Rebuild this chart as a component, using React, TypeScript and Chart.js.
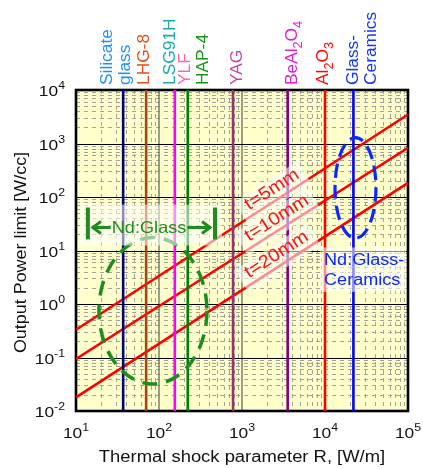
import React, { useEffect, useRef } from 'react';
import { Chart, registerables } from 'chart.js';

Chart.register(...registerables);

const FONT = '"Liberation Sans", Arial, Helvetica, sans-serif';

// ---------- data ----------
const xTickExponents = [1, 2, 3, 4, 5];
const yTickExponents = [-2, -1, 0, 1, 2, 3, 4];

const thermalShockR = [10, 100000];
const powerT5mm = [0.33, 3480];
const powerT10mm = [0.094, 830];
const powerT20mm = [0.018, 184];
const thicknessLabels = ['t=5mm', 't=10mm', 't=20mm'];
const thicknessLabelR = 1330;

const materialNames = ['Silicate glass', 'LHG-8', 'LSG91H / YLF', 'HAP-4', 'YAG', 'BeAl2O4', 'Al2O3', 'Glass-Ceramics'];
const materialR = [37, 70, 155, 222, 780, 3550, 10000, 22000];
const materialColors = ['#000080', '#a8440e', '#ff00ff', '#008000', '#993366', '#800080', '#ff0000', '#0000ff'];

type Seg = { t: string; sub?: boolean; sup?: boolean };

const topLabels: { lines: Seg[][]; r: number; color: string }[] = [
  { lines: [[{ t: 'Silicate' }], [{ t: 'glass' }]], r: 27, color: '#1e90ff' },
  { lines: [[{ t: 'LHG-8' }]], r: 76, color: '#e0501a' },
  { lines: [[{ t: 'LSG91H' }]], r: 156, color: '#20aaaa' },
  { lines: [[{ t: 'YLF' }]], r: 236, color: '#ff66b2' },
  { lines: [[{ t: 'HAP-4' }]], r: 389, color: '#159615' },
  { lines: [[{ t: 'YAG' }]], r: 1000, color: '#c846aa' },
  { lines: [[{ t: 'BeAl' }, { t: '2', sub: true }, { t: 'O' }, { t: '4', sub: true }]], r: 4600, color: '#dc1ed2' },
  { lines: [[{ t: 'Al' }, { t: '2', sub: true }, { t: 'O' }, { t: '3', sub: true }]], r: 10870, color: '#ff0a0a' },
  { lines: [[{ t: 'Glass-' }], [{ t: 'Ceramics' }]], r: 25000, color: '#1438f0' },
];

// annotations (data coordinates)
const ndGlassText = 'Nd:Glass';
const ndGlassTextAt = { r: 75.9, p: 20.8 };
const ndGlassBarsR = [13.9, 473];
const ndGlassBarsP = [16.1, 63.6];
const ndGlassArrowP = 26.9;
const ndGlassBoxR = [11.2, 574];
const ndGlassBoxP = [12.4, 72];
const ndGlassEllipseR = [18.9, 378];
const ndGlassEllipseP = [0.032, 17.5];

const ceramicsText = ['Nd:Glass-', 'Ceramics'];
const ceramicsTextAt = { r: 9730, p: 5.47 };
const ceramicsBoxR = [8710, 100000];
const ceramicsBoxP = [1.68, 11.4];
const ceramicsEllipseR = [13200, 41100];
const ceramicsEllipseP = [17, 1290];

const X_MIN = Math.pow(10, xTickExponents[0]);
const X_MAX = Math.pow(10, xTickExponents[xTickExponents.length - 1]);
const Y_MIN = Math.pow(10, yTickExponents[0]);
const Y_MAX = Math.pow(10, yTickExponents[yTickExponents.length - 1]);

const PLOT_BG = '#ffffcc';
const GREEN = '#1e8c1e';
const FADE = 'rgba(255,255,255,0.55)';

// ---------- helpers ----------
function measureRich(ctx: CanvasRenderingContext2D, segs: Seg[], size: number) {
  let w = 0;
  for (const s of segs) {
    const sz = s.sub || s.sup ? Math.round(size * 0.7) : size;
    ctx.font = `${sz}px ${FONT}`;
    w += ctx.measureText(s.t).width;
  }
  return w;
}

function drawRich(
  ctx: CanvasRenderingContext2D,
  segs: Seg[],
  x: number,
  y: number,
  o: { size: number; color: string; angle?: number; align?: 'left' | 'center' | 'right'; stretch?: number }
) {
  const { size, color, angle = 0, align = 'left', stretch = 1 } = o;
  ctx.save();
  ctx.translate(x, y);
  if (angle) ctx.rotate(angle);
  ctx.scale(stretch, 1);
  ctx.fillStyle = color;
  ctx.textBaseline = 'alphabetic';
  ctx.textAlign = 'left';
  const total = measureRich(ctx, segs, size);
  let cx = align === 'left' ? 0 : align === 'center' ? -total / 2 : -total;
  for (const s of segs) {
    const sz = s.sub || s.sup ? Math.round(size * 0.7) : size;
    ctx.font = `${sz}px ${FONT}`;
    const dy = s.sub ? size * 0.28 : s.sup ? -size * 0.42 : 0;
    ctx.fillText(s.t, cx, dy);
    cx += ctx.measureText(s.t).width;
  }
  ctx.restore();
  return total * stretch;
}

function minorValues(min: number, max: number) {
  const out: number[] = [];
  for (let e = Math.floor(Math.log10(min)); e < Math.ceil(Math.log10(max)); e++) {
    for (let m = 2; m <= 9; m++) {
      const v = m * Math.pow(10, e);
      if (v > min && v < max) out.push(v);
    }
  }
  return out;
}

function majorValues(min: number, max: number) {
  const out: number[] = [];
  for (let e = Math.ceil(Math.log10(min)); e <= Math.floor(Math.log10(max)); e++) {
    const v = Math.pow(10, e);
    if (v > min && v < max) out.push(v);
  }
  return out;
}

function logInterp(xs: number[], ys: number[], x: number) {
  const t = (Math.log10(x) - Math.log10(xs[0])) / (Math.log10(xs[1]) - Math.log10(xs[0]));
  return Math.pow(10, Math.log10(ys[0]) + t * (Math.log10(ys[1]) - Math.log10(ys[0])));
}

function seg(ctx: CanvasRenderingContext2D, x1: number, y1: number, x2: number, y2: number) {
  ctx.beginPath();
  ctx.moveTo(x1, y1);
  ctx.lineTo(x2, y2);
  ctx.stroke();
}

const decorPlugin = {
  id: 'decor',
  beforeDatasetsDraw(chart: any) {
    const { ctx, chartArea: a, scales } = chart;
    const x = scales.x;
    const y = scales.y;
    ctx.save();
    ctx.fillStyle = PLOT_BG;
    ctx.fillRect(a.left, a.top, a.right - a.left, a.bottom - a.top);

    ctx.lineWidth = 1;
    ctx.strokeStyle = '#a3a39a';
    ctx.setLineDash([4, 4]);
    for (const v of minorValues(X_MIN, X_MAX)) {
      const px = Math.round(x.getPixelForValue(v)) + 0.5;
      seg(ctx, px, a.top, px, a.bottom);
    }
    for (const v of minorValues(Y_MIN, Y_MAX)) {
      const py = Math.round(y.getPixelForValue(v)) + 0.5;
      seg(ctx, a.left, py, a.right, py);
    }
    ctx.setLineDash([]);
    ctx.strokeStyle = '#7d7d68';
    ctx.lineWidth = 1.5;
    for (const v of majorValues(X_MIN, X_MAX)) {
      const px = x.getPixelForValue(v);
      seg(ctx, px, a.top, px, a.bottom);
    }
    ctx.strokeStyle = '#000';
    ctx.lineWidth = 1.2;
    for (const v of majorValues(Y_MIN, Y_MAX)) {
      const py = Math.round(y.getPixelForValue(v)) + 0.5;
      seg(ctx, a.left, py, a.right, py);
    }
    ctx.lineWidth = 2.6;
    ctx.strokeRect(a.left, a.top, a.right - a.left, a.bottom - a.top);
    ctx.restore();
  },
  afterDatasetsDraw(chart: any) {
    const { ctx, chartArea: a, scales } = chart;
    const x = scales.x;
    const y = scales.y;
    const X = (v: number) => x.getPixelForValue(v);
    const Y = (v: number) => y.getPixelForValue(v);
    ctx.save();

    // dashed ellipses
    const ellipse = (rs: number[], ps: number[], color: string, w: number, dash: number[]) => {
      const x1 = X(rs[0]), x2 = X(rs[1]), y1 = Y(ps[1]), y2 = Y(ps[0]);
      ctx.beginPath();
      ctx.setLineDash(dash);
      ctx.lineWidth = w;
      ctx.strokeStyle = color;
      ctx.ellipse((x1 + x2) / 2, (y1 + y2) / 2, (x2 - x1) / 2, (y2 - y1) / 2, 0, 0, Math.PI * 2);
      ctx.stroke();
      ctx.setLineDash([]);
    };
    ellipse(ndGlassEllipseR, ndGlassEllipseP, GREEN, 3.5, [15, 9]);
    ellipse(ceramicsEllipseR, ceramicsEllipseP, '#0a28ff', 3.2, [14, 7]);

    // thickness labels: boxes then text
    const series = [powerT5mm, powerT10mm, powerT20mm];
    const tSize = 18, tStretch = 1.1, tOff = 6;
    const labelGeo = series.map((ps, i) => {
      const px = X(thicknessLabelR);
      const py = Y(logInterp(thermalShockR, ps, thicknessLabelR));
      const ang = Math.atan2(Y(ps[1]) - Y(ps[0]), X(thermalShockR[1]) - X(thermalShockR[0]));
      const w = measureRich(ctx, [{ t: thicknessLabels[i] }], tSize) * tStretch;
      return { px, py, ang, w };
    });
    ctx.fillStyle = FADE;
    for (const g of labelGeo) {
      ctx.save();
      ctx.translate(g.px, g.py);
      ctx.rotate(g.ang);
      ctx.fillRect(-8, -tOff - 15, g.w + 14, 15 + tOff + 5);
      ctx.restore();
    }
    // Nd:Glass box
    ctx.fillStyle = FADE;
    ctx.fillRect(X(ndGlassBoxR[0]), Y(ndGlassBoxP[1]), X(ndGlassBoxR[1]) - X(ndGlassBoxR[0]), Y(ndGlassBoxP[0]) - Y(ndGlassBoxP[1]));
    // ceramics box
    ctx.fillRect(X(ceramicsBoxR[0]), Y(ceramicsBoxP[1]), X(ceramicsBoxR[1]) - X(ceramicsBoxR[0]) - 2, Y(ceramicsBoxP[0]) - Y(ceramicsBoxP[1]));

    labelGeo.forEach((g, i) => {
      ctx.save();
      ctx.translate(g.px, g.py);
      ctx.rotate(g.ang);
      drawRich(ctx, [{ t: thicknessLabels[i] }], 0, -tOff, { size: tSize, color: '#ff1010', stretch: tStretch });
      ctx.restore();
    });

    // Nd:Glass annotation
    const nx = X(ndGlassTextAt.r), ny = Y(ndGlassTextAt.p);
    const nw = drawRich(ctx, [{ t: ndGlassText }], nx, ny, { size: 16.5, color: GREEN, align: 'center', stretch: 1.1 });
    ctx.strokeStyle = GREEN;
    ctx.lineWidth = 4;
    const bx1 = X(ndGlassBarsR[0]), bx2 = X(ndGlassBarsR[1]);
    const by1 = Y(ndGlassBarsP[1]), by2 = Y(ndGlassBarsP[0]);
    seg(ctx, bx1, by1, bx1, by2);
    seg(ctx, bx2, by1, bx2, by2);
    const ay = Y(ndGlassArrowP);
    ctx.lineWidth = 3;
    const lTip = bx1 + 4, rTip = bx2 - 4;
    seg(ctx, lTip, ay, nx - nw / 2 - 1, ay);
    seg(ctx, nx + nw / 2 + 1, ay, rTip, ay);
    ctx.beginPath();
    ctx.moveTo(lTip + 9, ay - 6); ctx.lineTo(lTip + 1, ay); ctx.lineTo(lTip + 9, ay + 6);
    ctx.moveTo(rTip - 9, ay - 6); ctx.lineTo(rTip - 1, ay); ctx.lineTo(rTip - 9, ay + 6);
    ctx.stroke();

    // ceramics text
    const cx = X(ceramicsTextAt.r), cy = Y(ceramicsTextAt.p);
    ceramicsText.forEach((t, i) => drawRich(ctx, [{ t }], cx, cy + i * 20, { size: 16, color: '#0a28ff', stretch: 1.13 }));

    // top material labels
    for (const lab of topLabels) {
      lab.lines.forEach((segs, i) => {
        drawRich(ctx, segs, X(lab.r) + i * 18, a.top - 5, { size: 16.5, color: lab.color, angle: -Math.PI / 2, stretch: 1.05 });
      });
    }

    // tick labels
    for (const e of yTickExponents) {
      const py = Y(Math.pow(10, e));
      drawRich(ctx, [{ t: '10' }, { t: String(e), sup: true }], a.left - 11, py + 6, { size: 15.5, color: '#111', align: 'right', stretch: 1.12 });
    }
    for (const e of xTickExponents) {
      const px = X(Math.pow(10, e));
      drawRich(ctx, [{ t: '10' }, { t: String(e), sup: true }], px, a.bottom + 27, { size: 15.5, color: '#111', align: 'center', stretch: 1.12 });
    }

    // axis titles
    drawRich(ctx, [{ t: 'Thermal shock parameter R, [W/m]' }], (a.left + a.right) / 2, a.bottom + 51, { size: 16, color: '#111', align: 'center', stretch: 1.15 });
    drawRich(ctx, [{ t: 'Output Power limit [W/cc]' }], 26, (a.top + a.bottom) / 2 + 2, { size: 16, color: '#111', align: 'center', angle: -Math.PI / 2, stretch: 1.12 });

    ctx.restore();
  },
};

export default function App() {
  const ref = useRef<HTMLCanvasElement>(null);
  useEffect(() => {
    const canvas = ref.current;
    if (!canvas) return;
    const materialSets = materialR.map((r, i) => ({
      label: materialNames[i],
      data: [{ x: r, y: Y_MIN }, { x: r, y: Y_MAX }],
      borderColor: materialColors[i],
      borderWidth: 2.6,
      pointRadius: 0,
      fill: false,
    }));
    const lineSets = [powerT5mm, powerT10mm, powerT20mm].map((ps, i) => ({
      label: thicknessLabels[i],
      data: thermalShockR.map((r, j) => ({ x: r, y: ps[j] })),
      borderColor: '#ff0000',
      borderWidth: 2.6,
      pointRadius: 0,
      fill: false,
    }));
    const chart = new Chart(canvas, {
      type: 'line',
      data: { datasets: [...materialSets, ...lineSets] as any },
      options: {
        responsive: false,
        animation: false,
        devicePixelRatio: 1,
        layout: { padding: { left: 0, right: 15, top: 90, bottom: 0 } },
        plugins: { legend: { display: false }, tooltip: { enabled: false } },
        scales: {
          x: {
            type: 'logarithmic',
            min: X_MIN,
            max: X_MAX,
            grid: { display: false },
            border: { display: false },
            ticks: { display: false },
            afterFit: (s: any) => { s.height = 58; },
          },
          y: {
            type: 'logarithmic',
            min: Y_MIN,
            max: Y_MAX,
            grid: { display: false },
            border: { display: false },
            ticks: { display: false },
            afterFit: (s: any) => { s.width = 76; },
          },
        },
      } as any,
      plugins: [decorPlugin],
    });
    return () => chart.destroy();
  }, []);
  return (
    <div style={{ position: 'absolute', left: 0, top: 0, width: 423, height: 469, background: '#fff' }}>
      <canvas ref={ref} width={423} height={469} style={{ display: 'block', width: 423, height: 469 }} />
    </div>
  );
}
